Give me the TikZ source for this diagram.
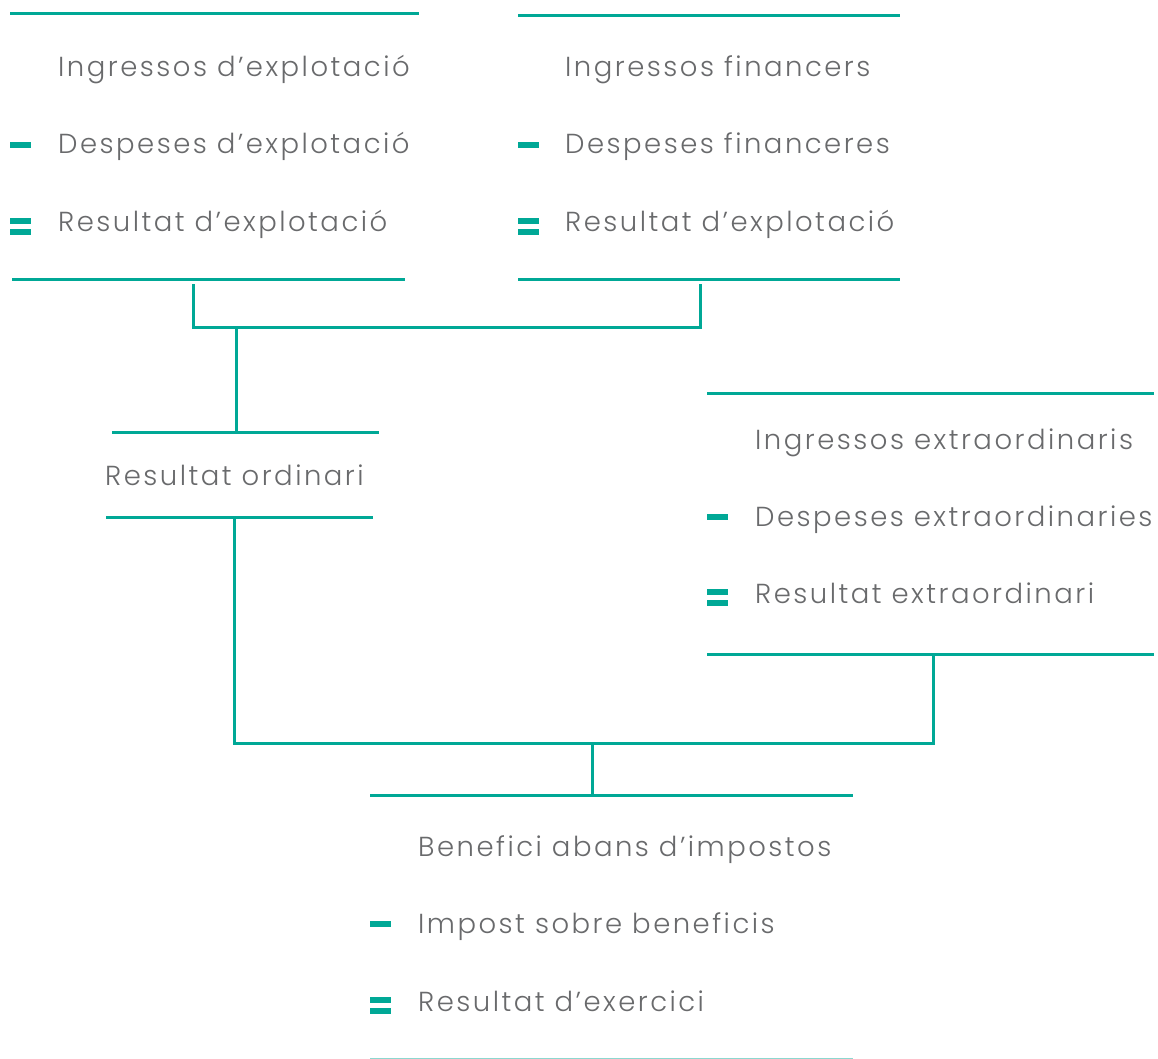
\documentclass[tikz,border=0pt]{standalone}
\usepackage{fontspec}
\setmainfont{Poppins Light}[LetterSpace=9]
\definecolor{teal}{RGB}{0,168,150}
\definecolor{txtgray}{RGB}{105,106,108}
\tikzset{
  rule/.style={draw=teal, line width=3pt},
  link/.style={draw=teal, line width=3pt},
  item/.style={anchor=base west, inner sep=0pt, text=txtgray, font=\fontsize{27.5}{32}\selectfont},
}
\newcommand{\minusmark}[2]{\fill[teal] (#1,#2-12) rectangle ++(21,6);}
\newcommand{\equalmark}[2]{\fill[teal] (#1,#2-14) rectangle ++(21,6); \fill[teal] (#1,#2-3) rectangle ++(21,6);}
\begin{document}
\begin{tikzpicture}[x=1pt,y=-1pt]
\useasboundingbox (0,0) rectangle (1158,1059);

% block 1: operating result
\coordinate (a1) at (10,14);  \coordinate (a2) at (419,14);
\coordinate (a3) at (12,279); \coordinate (a4) at (405,279);
\draw[rule] (a1) -- (a2);
\draw[rule] (a3) -- (a4);
\node[item] (i1) at (58,77)  {Ingressos d’explotació};
\node[item] (d1) at (58,154) {Despeses d’explotació};
\node[item] (r1) at (58,232) {Resultat d’explotació};
\minusmark{10}{154}
\equalmark{10}{232}

% block 2: financial result
\coordinate (b1) at (518,16);  \coordinate (b2) at (900,16);
\coordinate (b3) at (518,279); \coordinate (b4) at (900,279);
\draw[rule] (b1) -- (b2);
\draw[rule] (b3) -- (b4);
\node[item] (i2) at (565,77)  {Ingressos financers};
\node[item] (d2) at (565,154) {Despeses financeres};
\node[item] (r2) at (565,232) {Resultat d’explotació};
\minusmark{518}{154}
\equalmark{518}{232}

% ordinary result
\coordinate (o1) at (112,432); \coordinate (o2) at (379,432);
\coordinate (o3) at (106,517); \coordinate (o4) at (373,517);
\draw[rule] (o1) -- (o2);
\draw[rule] (o3) -- (o4);
\node[item] (ro) at (105,485) {Resultat ordinari};

% joining blocks 1 and 2 into the ordinary result
\coordinate (j1) at (193,284); \coordinate (j2) at (700,284);
\coordinate (j3) at (193,327); \coordinate (j4) at (700,327);
\coordinate (j5) at (236,327); \coordinate (j6) at (236,432);
\draw[link] (j1) -- (j3) -- (j4) -- (j2);
\draw[link] (j5) -- (j6);

% block 3: extraordinary result
\coordinate (c1) at (707,393); \coordinate (c2) at (1154,393);
\coordinate (c3) at (707,654); \coordinate (c4) at (1154,654);
\draw[rule] (c1) -- (c2);
\draw[rule] (c3) -- (c4);
\node[item] (i3) at (755,449) {Ingressos extraordinaris};
\node[item] (d3) at (755,526) {Despeses extraordinaries};
\node[item] (r3) at (755,603) {Resultat extraordinari};
\minusmark{707}{526}
\equalmark{707}{603}

% joining ordinary and extraordinary results
\coordinate (k1) at (234,519); \coordinate (k2) at (234,743);
\coordinate (k3) at (933,743); \coordinate (k4) at (933,654);
\coordinate (k5) at (592,743); \coordinate (k6) at (592,795);
\draw[link] (k1) -- (k2) -- (k3) -- (k4);
\draw[link] (k5) -- (k6);

% block 4: result of the year
\coordinate (e1) at (370,795);  \coordinate (e2) at (853,795);
\coordinate (e3) at (370,1059); \coordinate (e4) at (853,1059);
\draw[rule] (e1) -- (e2);
\draw[rule, draw=teal!45] (e3) -- (e4);
\node[item] (i4) at (418,856)  {Benefici abans d’impostos};
\node[item] (d4) at (418,933)  {Impost sobre beneficis};
\node[item] (r4) at (418,1011) {Resultat d’exercici};
\minusmark{370}{933}
\equalmark{370}{1011}
\end{tikzpicture}
\end{document}
